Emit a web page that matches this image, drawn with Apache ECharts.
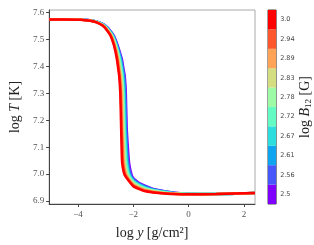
<!DOCTYPE html>
<html><head><meta charset="utf-8">
<script src="https://cdn.jsdelivr.net/npm/echarts@6/dist/echarts.min.js"></script>
<style>html,body{margin:0;padding:0;background:#fff}#c{width:314px;height:245px}</style>
</head><body><div id="c"></div>
<script>
// colorbar levels (log B12), from low (purple) to high (red)
const bLabels = ['2.5','2.56','2.61','2.67','2.72','2.78','2.83','2.89','2.94','3.0'];
const bColors = ['#8000ff','#4757fb','#0ea4f0','#2bdddd','#63fbc3','#9cfba4','#d4dd80','#ffa457','#ff572c','#ff0000'];
// plateau (head) points
const headX = [-5.04, -4.5];
const headT = [7.575, 7.575];
// upper part: log T levels, with log y per curve (curve 0 = log B12 2.5 ... curve 9 = 3.0)
const upperT  = [7.574,7.570,7.564,7.552,7.533,7.514,7.483,7.458,7.426,7.389,7.366,7.303,7.178,7.091,7.041,6.997];
const upperX0 = [-3.80,-3.46,-3.23,-3.01,-2.83,-2.70,-2.58,-2.50,-2.41,-2.35,-2.31,-2.27,-2.24,-2.19,-2.15,-2.06];
const upperX1 = [-3.81,-3.47,-3.24,-3.02,-2.84,-2.71,-2.59,-2.52,-2.43,-2.37,-2.33,-2.29,-2.26,-2.22,-2.18,-2.09];
const upperX2 = [-3.82,-3.48,-3.25,-3.03,-2.85,-2.73,-2.61,-2.53,-2.45,-2.39,-2.35,-2.31,-2.28,-2.24,-2.21,-2.12];
const upperX3 = [-3.83,-3.49,-3.26,-3.04,-2.87,-2.74,-2.62,-2.55,-2.47,-2.41,-2.38,-2.34,-2.31,-2.27,-2.23,-2.14];
const upperX4 = [-3.84,-3.50,-3.27,-3.05,-2.88,-2.75,-2.64,-2.57,-2.49,-2.43,-2.40,-2.36,-2.33,-2.29,-2.26,-2.17];
const upperX5 = [-3.86,-3.52,-3.29,-3.07,-2.89,-2.77,-2.65,-2.58,-2.51,-2.46,-2.42,-2.38,-2.35,-2.32,-2.29,-2.20];
const upperX6 = [-3.87,-3.53,-3.30,-3.08,-2.90,-2.78,-2.67,-2.60,-2.53,-2.48,-2.44,-2.40,-2.37,-2.34,-2.32,-2.23];
const upperX7 = [-3.88,-3.54,-3.31,-3.09,-2.92,-2.79,-2.68,-2.62,-2.55,-2.50,-2.47,-2.43,-2.40,-2.37,-2.34,-2.25];
const upperX8 = [-3.89,-3.55,-3.32,-3.10,-2.93,-2.81,-2.70,-2.63,-2.57,-2.52,-2.49,-2.45,-2.42,-2.39,-2.37,-2.28];
const upperX9 = [-3.90,-3.56,-3.33,-3.11,-2.94,-2.82,-2.71,-2.65,-2.59,-2.54,-2.51,-2.47,-2.44,-2.42,-2.40,-2.31];
// lower tail: log y levels, with log T per curve
const tailX  = [-2.0, -1.8, -1.6, -1.3, -1.0, -0.6, 0, 1, 2.4];
const tailT0 = [6.985,6.968,6.958,6.946,6.939,6.932,6.927,6.926,6.930];
const tailT1 = [6.982,6.965,6.956,6.944,6.938,6.931,6.927,6.926,6.930];
const tailT2 = [6.978,6.963,6.953,6.943,6.937,6.931,6.927,6.926,6.930];
const tailT3 = [6.975,6.960,6.951,6.941,6.936,6.930,6.926,6.926,6.930];
const tailT4 = [6.972,6.958,6.949,6.940,6.935,6.929,6.926,6.926,6.930];
const tailT5 = [6.968,6.955,6.946,6.938,6.933,6.929,6.926,6.926,6.930];
const tailT6 = [6.965,6.953,6.944,6.937,6.932,6.928,6.926,6.926,6.930];
const tailT7 = [6.962,6.950,6.942,6.935,6.931,6.927,6.925,6.926,6.930];
const tailT8 = [6.958,6.948,6.939,6.934,6.930,6.927,6.925,6.926,6.930];
const tailT9 = [6.955,6.945,6.937,6.932,6.929,6.926,6.925,6.926,6.930];
const xTicks = [-4, -2, 0, 2];
const yTicks = [6.9, 7.0, 7.1, 7.2, 7.3, 7.4, 7.5, 7.6];

const uppers = [upperX0,upperX1,upperX2,upperX3,upperX4,upperX5,upperX6,upperX7,upperX8,upperX9];
const tails = [tailT0,tailT1,tailT2,tailT3,tailT4,tailT5,tailT6,tailT7,tailT8,tailT9];

function curve(k){
  const pts = [];
  headX.forEach((x,i)=>pts.push([x, headT[i]]));
  uppers[k].forEach((x,i)=>pts.push([x, upperT[i]]));
  tailX.forEach((x,i)=>pts.push([x, tails[k][i]]));
  return pts;
}

const serif = 'Liberation Serif';
const series = [];
for (let k=0;k<10;k++){
  series.push({type:'line', xAxisIndex:0, yAxisIndex:0, data:curve(k), showSymbol:false, smooth:0.2,
    lineStyle:{color:bColors[k], width:2.5}, silent:true, animation:false, z:2+k});
}
series.push({type:'bar', xAxisIndex:1, yAxisIndex:1, barWidth:'100%', animation:false, silent:true,
  data: bLabels.map((l,i)=>({value:1, itemStyle:{color:bColors[i]}}))});

const chart = echarts.init(document.getElementById('c'), null, {renderer:'canvas'});
chart.setOption({
  animation:false,
  grid:[
    {left:37, right:59, top:10, bottom:41, show:true, borderColor:'#aaa', borderWidth:1, backgroundColor:'#fff'},
    {left:268, width:10, top:10, height:194, show:true, borderColor:'#444', borderWidth:1}
  ],
  xAxis:[
    {type:'value', gridIndex:0, min:-5.04, max:2.4,
     axisLine:{show:true, onZero:false, lineStyle:{color:'#444', width:1}},
     axisTick:{show:true, length:3, customValues:xTicks, lineStyle:{color:'#444'}},
     axisLabel:{customValues:xTicks, fontFamily:serif, fontSize:9, color:'#555', margin:6,
       formatter:v=>String(v).replace('-','\u2212')},
     splitLine:{show:false},
     name:'{r|log }{i|y}{r| [g/cm\u00b2]}', nameLocation:'middle', nameGap:22,
     nameTextStyle:{rich:{r:{fontFamily:serif, fontSize:14, color:'#222'}, i:{fontFamily:serif, fontStyle:'italic', fontSize:14, color:'#222'}}}
    },
    {type:'value', gridIndex:1, min:0, max:1, show:false}
  ],
  yAxis:[
    {type:'value', gridIndex:0, min:6.889, max:7.61,
     axisLine:{show:true, onZero:false, lineStyle:{color:'#444', width:1}},
     axisTick:{show:true, length:3, customValues:yTicks, lineStyle:{color:'#444'}},
     axisLabel:{customValues:yTicks, fontFamily:serif, fontSize:9, color:'#555', margin:5,
       formatter:v=>v.toFixed(1)},
     splitLine:{show:false},
     name:'{r|log }{i|T}{r| [K]}', nameLocation:'middle', nameGap:24, nameRotate:90,
     nameTextStyle:{rich:{r:{fontFamily:serif, fontSize:14, color:'#222'}, i:{fontFamily:serif, fontStyle:'italic', fontSize:14, color:'#222'}}}
    },
    {type:'category', gridIndex:1, data:bLabels, position:'right', boundaryGap:true,
     axisLine:{show:false},
     axisTick:{show:true, length:2, alignWithLabel:true, lineStyle:{color:'#444'}},
     axisLabel:{fontFamily:'DejaVu Sans', fontSize:6.5, color:'#444', margin:4},
     name:'{r|log }{i|B}{s|12}{r| [G]}', nameLocation:'middle', nameGap:21, nameRotate:90,
     nameTextStyle:{rich:{r:{fontFamily:serif, fontSize:14, color:'#222'}, i:{fontFamily:serif, fontStyle:'italic', fontSize:14, color:'#222'},
       s:{fontFamily:serif, fontSize:9, color:'#222', padding:[6,0,0,0]}}}
    }
  ],
  series: series
});
</script></body></html>
